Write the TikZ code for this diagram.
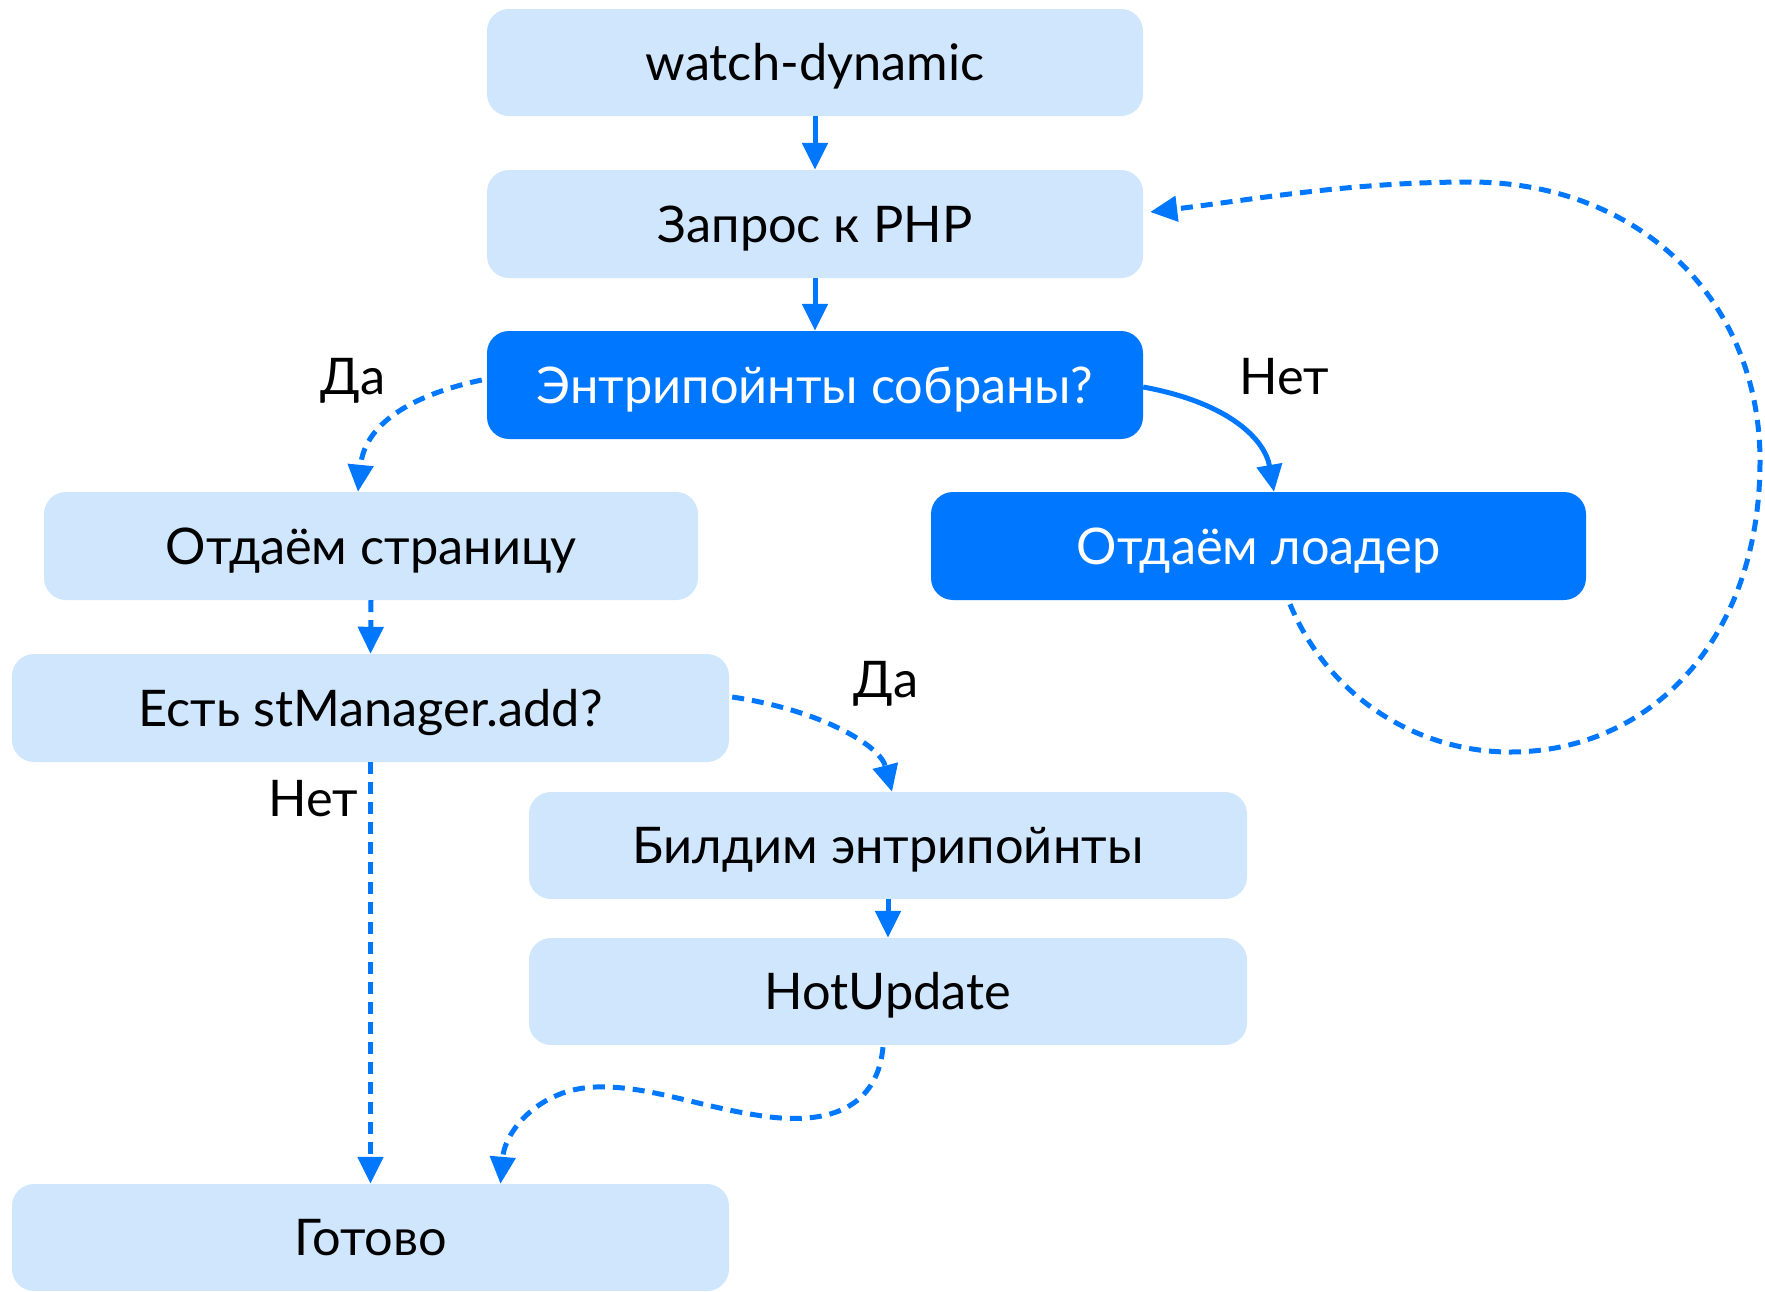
\documentclass[tikz,border=0pt]{standalone}
\usepackage{fontspec}
\setmainfont{Lato}
\usetikzlibrary{arrows.meta,calc}
\definecolor{lightbox}{RGB}{207,230,253}
\definecolor{darkbox}{RGB}{0,119,255}
\begin{document}
\begin{tikzpicture}[x=1pt,y=-1pt,
  every node/.style={font=\fontsize{50.5}{60}\selectfont},
  lbox/.style={rectangle, rounded corners=22pt, fill=lightbox, text=black, inner sep=0pt, text height=36pt, text depth=0pt},
  dbox/.style={rectangle, rounded corners=22pt, fill=darkbox, text=white, inner sep=0pt, text height=36pt, text depth=0pt},
  solidarr/.style={draw=darkbox, line width=5pt, -{Triangle[length=27pt,width=25pt]}},
  dasharr/.style={draw=darkbox, line width=5pt, dash pattern=on 12pt off 8pt, -{Triangle[length=27pt,width=25pt]}},
  lbl/.style={text=black, text height=36pt, text depth=0pt, inner sep=0pt}
]
\useasboundingbox (0,0) rectangle (1765,1291);
\node[lbox, minimum width=656pt, minimum height=107pt] (n1) at (815,62.5) {watch-dynamic};
\node[lbox, minimum width=656pt, minimum height=108pt] (n2) at (815,224) {Запрос к PHP};
\node[dbox, minimum width=656pt, minimum height=108pt] (n3) at (815,385) {Энтрипойнты собраны?};
\node[lbox, minimum width=654pt, minimum height=108pt] (n4) at (371,546) {Отдаём страницу};
\node[dbox, minimum width=655pt, minimum height=108pt] (n5) at (1258.5,546) {Отдаём лоадер};
\node[lbox, minimum width=717pt, minimum height=108pt] (n6) at (370.5,708) {Есть stManager.add?};
\node[lbox, minimum width=718pt, minimum height=107pt] (n7) at (888,845.5) {Билдим энтрипойнты};
\node[lbox, minimum width=718pt, minimum height=107pt] (n8) at (888,991.5) {HotUpdate};
\node[lbox, minimum width=717pt, minimum height=107pt] (n9) at (370.5,1237.5) {Готово};

\node[lbl] (l1) at (353,376) {Да};
\node[lbl] (l2) at (1284,376) {Нет};
\node[lbl] (l3) at (886,679) {Да};
\node[lbl] (l4) at (313,798) {Нет};

\draw[solidarr] (n1.south) -- (n2.north);
\draw[solidarr] (n2.south) -- (n3.north);
\draw[solidarr] (n7.south) -- (n8.north);
\draw[dasharr] (n4.south) -- (n6.north);
\draw[dasharr] (n6.south) -- (n9.north);

\draw[dasharr] ($(n3.west)+(-5,-5)$) .. controls (420,393) and (365,420) .. ($(n4.north)+(-13,0)$);
\draw[solidarr] ($(n3.east)+(0,2)$) .. controls (1230,403) and (1265,440) .. ($(n5.north)+(15.5,0)$);
\draw[dasharr] ($(n5.south)+(31.5,4)$) .. controls (1330,700) and (1420,752) .. (1510,752)
   .. controls (1650,752) and (1760,640) .. (1760,461)
   .. controls (1760,300) and (1640,182) .. (1470,182)
   .. controls (1350,182) and (1250,200) .. ($(n2.east)+(7,-12)$);
\draw[dasharr] ($(n6.east)+(3,-11)$) .. controls (820,710) and (880,745) .. ($(n7.north)+(4,0)$);
\draw[dasharr] ($(n8.south)+(-5,2)$) .. controls (878,1100) and (840,1125) .. (770,1117)
   .. controls (700,1108) and (650,1085) .. (595,1087)
   .. controls (540,1089) and (505,1130) .. ($(n9.north)+(130,0)$);
\end{tikzpicture}
\end{document}
